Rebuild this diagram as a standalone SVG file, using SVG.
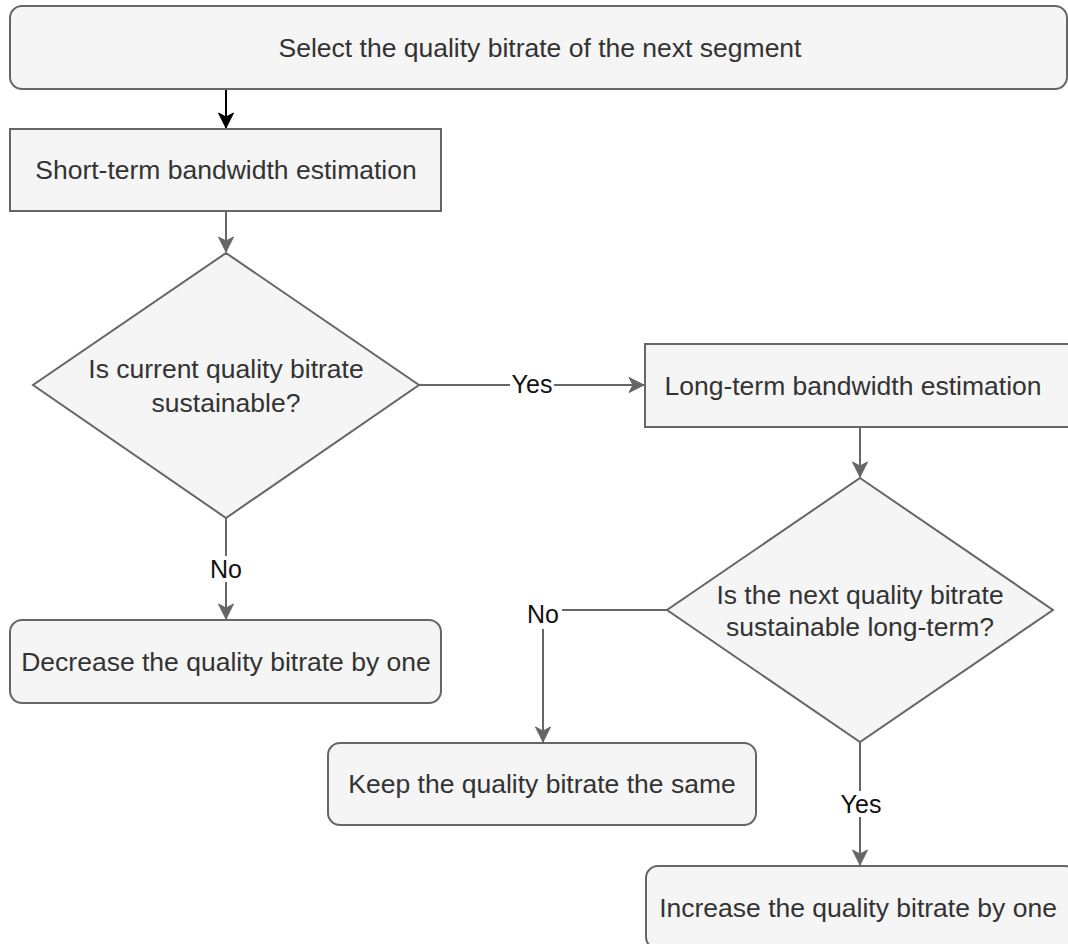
<svg xmlns="http://www.w3.org/2000/svg" width="1068" height="944" viewBox="0 0 1068 944">
  <style>
    .box { fill: #f5f5f5; stroke: #666666; stroke-width: 2; }
    .txt { font-family: "Liberation Sans", Arial, Helvetica, sans-serif; font-size: 26.5px; fill: #333333; text-anchor: middle; }
    .lbl { font-family: "Liberation Sans", Arial, Helvetica, sans-serif; font-size: 25px; fill: #111111; text-anchor: middle; }
    .edge { fill: none; stroke: #666666; stroke-width: 2; marker-end: url(#arrowGray); }
    .edge-dark { fill: none; stroke: #000000; stroke-width: 2; marker-end: url(#arrowBlack); }
    .lblbg { fill: #ffffff; }
  </style>
  <defs>
    <marker id="arrowGray" markerUnits="userSpaceOnUse" markerWidth="20" markerHeight="20" viewBox="-16 -10 20 20" refX="0" refY="0" orient="auto">
      <path d="M -15 -7.5 L 0 0 L -15 7.5 L -11 0 Z" fill="#666666" stroke="#666666" stroke-width="1"/>
    </marker>
    <marker id="arrowBlack" markerUnits="userSpaceOnUse" markerWidth="20" markerHeight="20" viewBox="-16 -10 20 20" refX="0" refY="0" orient="auto">
      <path d="M -15 -7.5 L 0 0 L -15 7.5 L -11 0 Z" fill="#000000" stroke="#000000" stroke-width="1"/>
    </marker>
  </defs>

  <rect width="1068" height="944" fill="#ffffff"/>

  <!-- connectors -->
  <g id="connectors">
    <path class="edge-dark" d="M 226 89 L 226 128"/>
    <path class="edge" d="M 226 211 L 226 252"/>
    <path class="edge" d="M 419 385 L 644 385"/>
    <path class="edge" d="M 226 518 L 226 619"/>
    <path class="edge" d="M 860 427 L 860 477"/>
    <path class="edge" d="M 667 610 L 543 610 L 543 742"/>
    <path class="edge" d="M 860 742 L 860 865"/>

    <!-- edge labels -->
    <rect class="lblbg" x="510" y="372" width="44" height="26"/>
    <text class="lbl" x="532" y="393">Yes</text>
    <rect class="lblbg" x="207" y="556" width="38" height="26"/>
    <text class="lbl" x="226" y="578">No</text>
    <rect class="lblbg" x="525" y="601" width="37" height="28"/>
    <text class="lbl" x="543" y="623">No</text>
    <rect class="lblbg" x="838" y="791" width="46" height="26"/>
    <text class="lbl" x="861" y="813">Yes</text>
  </g>

  <g id="select-bitrate">
    <rect class="box" x="10" y="6" width="1057" height="83" rx="12" ry="12"/>
    <text class="txt" x="540" y="57">Select the quality bitrate of the next segment</text>
  </g>

  <g id="short-term">
    <rect class="box" x="10" y="129" width="431" height="82"/>
    <text class="txt" x="226" y="179">Short-term bandwidth estimation</text>
  </g>

  <g id="current-sustainable">
    <polygon class="box" points="226,253 419,385 226,518 33,385"/>
    <text class="txt" x="226" y="378">Is current quality bitrate</text>
    <text class="txt" x="226" y="412">sustainable?</text>
  </g>

  <g id="decrease">
    <rect class="box" x="10" y="620" width="431" height="83" rx="12" ry="12"/>
    <text class="txt" x="226" y="671">Decrease the quality bitrate by one</text>
  </g>

  <g id="long-term">
    <rect class="box" x="645" y="344" width="431" height="83"/>
    <text class="txt" x="853" y="395">Long-term bandwidth estimation</text>
  </g>

  <g id="next-sustainable">
    <polygon class="box" points="860,478 1053,610 860,742 667,610"/>
    <text class="txt" x="860" y="604">Is the next quality bitrate</text>
    <text class="txt" x="860" y="636">sustainable long-term?</text>
  </g>

  <g id="keep">
    <rect class="box" x="328" y="743" width="428" height="82" rx="12" ry="12"/>
    <text class="txt" x="542" y="793">Keep the quality bitrate the same</text>
  </g>

  <g id="increase">
    <rect class="box" x="646" y="866" width="431" height="83" rx="12" ry="12"/>
    <text class="txt" x="858" y="917">Increase the quality bitrate by one</text>
  </g>
</svg>
